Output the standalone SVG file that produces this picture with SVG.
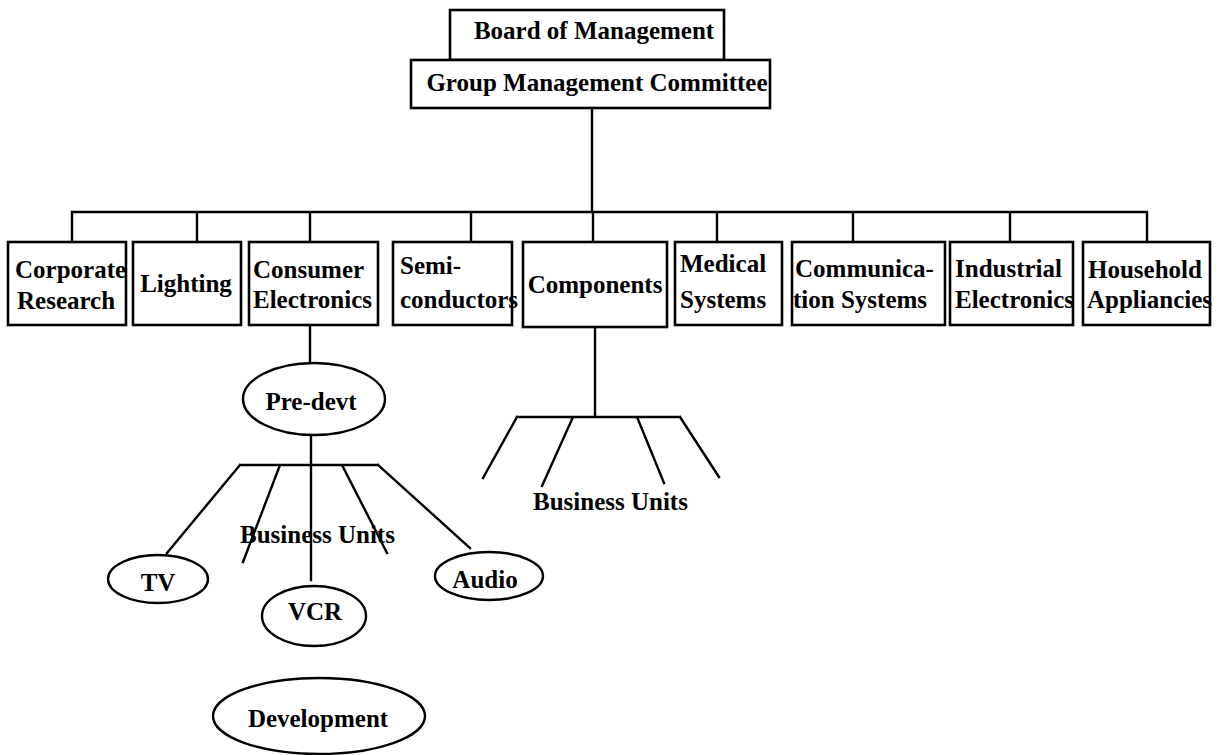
<svg xmlns="http://www.w3.org/2000/svg" width="1222" height="755" viewBox="0 0 1222 755">
<style>
.box{fill:#fff;stroke:#000;stroke-width:2.6}
.ell{fill:#fff;stroke:#000;stroke-width:2.4}
.ln{fill:none;stroke:#000;stroke-width:2.4;stroke-linecap:square}
text{font-family:"Liberation Serif","Times New Roman",serif;font-size:25px;font-weight:bold;fill:#000}
.c{text-anchor:middle}
</style>
<rect width="1222" height="755" fill="#fff"/>
<g id="connectors">
<path class="ln" d="M592 108V212M72 212H1147M72 212V242M197 212V242M310 212V242M471 212V242M593 212V242M717 212V242M853 212V242M1010 212V242M1147 212V242"/>
<path class="ln" d="M310 325V363M311 435V580M240 465H378M240 465L167 553M280 465L243 562M342 465L387 553M378 465L470 548"/>
<path class="ln" d="M595 327V417M517 417H680M517 417L483 478M573 417L542 486M637 417L664 483M680 417L719 477"/>
</g>
<g id="board"><rect class="box" x="450" y="10" width="274" height="50"/><text class="c" x="594" y="39">Board of Management</text></g>
<g id="gmc"><rect class="box" x="411" y="60" width="359" height="48"/><text class="c" x="597" y="91">Group Management Committee</text></g>
<g id="corporate-research"><rect class="box" x="8" y="242" width="118" height="83"/><text x="15" y="278">Corporate</text><text x="17" y="309">Research</text></g>
<g id="lighting"><rect class="box" x="133" y="242" width="108" height="83"/><text class="c" x="186" y="292">Lighting</text></g>
<g id="consumer-electronics"><rect class="box" x="249" y="242" width="129" height="83"/><text x="253" y="278">Consumer</text><text x="253" y="308">Electronics</text></g>
<g id="semiconductors"><rect class="box" x="393" y="242" width="119" height="83"/><text x="400" y="274">Semi-</text><text x="400" y="308">conductors</text></g>
<g id="components"><rect class="box" x="523" y="242" width="144" height="85"/><text class="c" x="595" y="293">Components</text></g>
<g id="medical-systems"><rect class="box" x="675" y="242" width="107" height="83"/><text x="680" y="272">Medical</text><text x="680" y="308">Systems</text></g>
<g id="communication-systems"><rect class="box" x="792" y="242" width="153" height="83"/><text x="795" y="277">Communica-</text><text x="793" y="308">tion Systems</text></g>
<g id="industrial-electronics"><rect class="box" x="950" y="242" width="123" height="83"/><text x="955" y="277">Industrial</text><text x="955" y="308">Electronics</text></g>
<g id="household-appliancies"><rect class="box" x="1083" y="242" width="127" height="83"/><text x="1088" y="278">Household</text><text x="1087" y="308">Appliancies</text></g>
<g id="pre-devt"><ellipse class="ell" cx="314" cy="399" rx="71" ry="36"/><text class="c" x="311" y="410">Pre-devt</text></g>
<g id="bu-left"><text x="240" y="543">Business Units</text></g>
<g id="tv"><ellipse class="ell" cx="158" cy="579" rx="50" ry="24"/><text class="c" x="158" y="591">TV</text></g>
<g id="vcr"><ellipse class="ell" cx="314" cy="616" rx="52" ry="30"/><text class="c" x="315" y="620">VCR</text></g>
<g id="audio"><ellipse class="ell" cx="489" cy="576" rx="54" ry="24"/><text class="c" x="485" y="588">Audio</text></g>
<g id="development"><ellipse class="ell" cx="319" cy="716" rx="106" ry="38"/><text class="c" x="318" y="727">Development</text></g>
<g id="bu-right"><text x="533" y="510">Business Units</text></g>
</svg>
